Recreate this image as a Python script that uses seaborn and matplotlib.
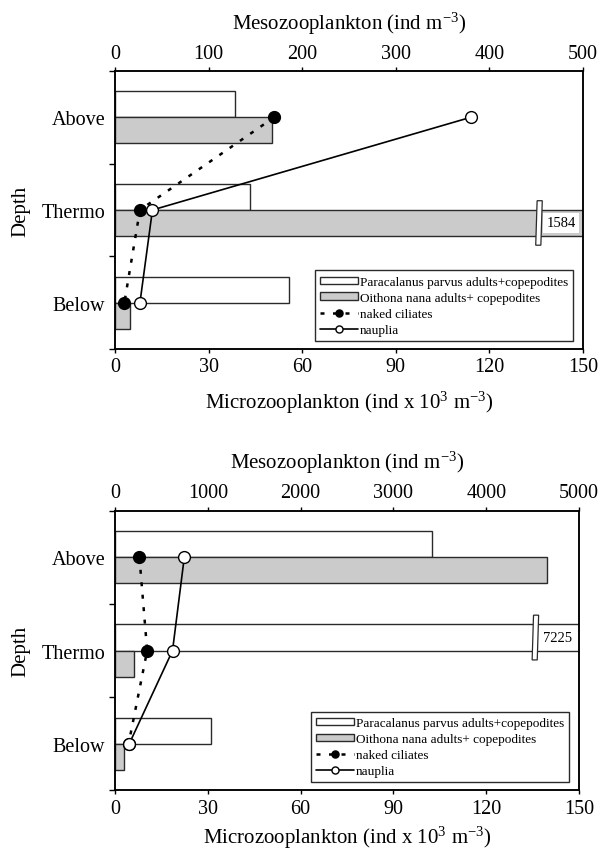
import numpy as np
import pandas as pd
import matplotlib
matplotlib.use("Agg")
import matplotlib.pyplot as plt
import matplotlib.transforms as mtransforms
from matplotlib.patches import Polygon
import seaborn as sns

# ---------------- data ----------------
depths = ["Above", "Thermo", "Below"]
species = ["Paracalanus parvus adults+copepodites", "Oithona nana adults+ copepodites"]
line_labels = ["naked ciliates", "nauplia"]
micro_ticks = [0, 30, 60, 90, 120, 150]

# upper panel
paracalanus_1 = [128, 144, 186]
oithona_1 = [168, 1584, 16]
ciliates_1 = [51, 8, 3]
nauplia_1 = [114, 12, 8]
meso_ticks_1 = [0, 100, 200, 300, 400, 500]

# lower panel
paracalanus_2 = [3420, 7225, 1030]
oithona_2 = [4660, 205, 100]
ciliates_2 = [7.9, 10.4, 4.4]
nauplia_2 = [22.4, 18.6, 4.6]
meso_ticks_2 = [0, 1000, 2000, 3000, 4000, 5000]

# ---------------- style ----------------
sns.set_theme(style="ticks")
plt.rcParams["font.family"] = ["Liberation Serif", "DejaVu Serif"]
plt.rcParams["mathtext.fontset"] = "custom"
plt.rcParams["mathtext.rm"] = "Liberation Serif"
plt.rcParams["mathtext.it"] = "Liberation Serif:italic"
plt.rcParams["axes.edgecolor"] = "black"
plt.rcParams["axes.linewidth"] = 1.1
plt.rcParams["xtick.color"] = "black"
plt.rcParams["ytick.color"] = "black"
plt.rcParams["text.color"] = "black"
plt.rcParams["axes.labelcolor"] = "black"

EDGE = "#2a2a2a"
GRAY = "#cbcbcb"
TICK_FS = 14.5
LABEL_FS = 15

fig = plt.figure(figsize=(6.03, 8.53), dpi=100)


def draw_panel(rect, paracalanus, oithona, ciliates, nauplia, meso_ticks, bottom_pad):
    ax = fig.add_axes(rect)
    bars = pd.DataFrame({
        "depth": depths * 2,
        "species": np.repeat(species, len(depths)),
        "value": list(paracalanus) + list(oithona),
    })
    sns.barplot(data=bars, x="value", y="depth", hue="species", order=depths,
                hue_order=species, orient="h", palette=["white", GRAY],
                saturation=1, edgecolor=EDGE, linewidth=1.0, width=0.56,
                errorbar=None, legend=False, ax=ax)
    meso_max = meso_ticks[-1]
    ax.set_xlim(0, meso_max)

    # axis breaks for bars exceeding the scale
    blend = mtransforms.blended_transform_factory(ax.transAxes, ax.transData)
    for cont in ax.containers:
        for bar in cont.patches:
            if bar.get_width() > meso_max:
                y0, h = bar.get_y(), bar.get_height()
                xb, w, tilt, ext = 0.899, 0.011, 0.003, 0.1
                pts = [(xb + tilt, y0 - ext), (xb + tilt + w, y0 - ext),
                       (xb + w, y0 + h + ext), (xb, y0 + h + ext)]
                ax.add_patch(Polygon(pts, closed=True, transform=blend,
                                     facecolor="white", edgecolor=EDGE,
                                     lw=0.9, zorder=5, clip_on=False))
                ax.text(0.953, y0 + h / 2, f"{bar.get_width():.0f}",
                        transform=blend, ha="center", va="center",
                        fontsize=10.5, zorder=6,
                        bbox=dict(facecolor="white", edgecolor="none", pad=2.5))

    ax2 = ax.twiny()
    ax.xaxis.tick_top()
    ax.xaxis.set_label_position("top")
    ax2.xaxis.tick_bottom()
    ax2.xaxis.set_label_position("bottom")

    pos = np.arange(len(depths))
    lines = pd.DataFrame({
        "pos": np.tile(pos, 2),
        "value": list(ciliates) + list(nauplia),
        "series": np.repeat(line_labels, len(depths)),
    })
    sns.lineplot(data=lines[lines.series == line_labels[0]], x="value", y="pos",
                 orient="y", sort=False, estimator=None, color="black",
                 lw=1.8, linestyle=(0, (1.6, 3.4)), marker="o", markersize=8.5,
                 markerfacecolor="black", markeredgecolor="black",
                 markeredgewidth=1.0, ax=ax2)
    sns.lineplot(data=lines[lines.series == line_labels[1]], x="value", y="pos",
                 orient="y", sort=False, estimator=None, color="black",
                 lw=1.2, linestyle="-", marker="o", markersize=8.5,
                 markerfacecolor="white", markeredgecolor="black",
                 markeredgewidth=1.0, ax=ax2)
    ax2.set_xlim(micro_ticks[0], micro_ticks[-1])
    ax2.set_xticks(micro_ticks)
    ax.set_xticks(meso_ticks)

    # categorical depth axis
    ax.set_ylim(len(depths) - 0.5, -0.5)
    ax.set_yticks(np.arange(len(depths) + 1) - 0.5, labels=[""] * (len(depths) + 1))
    ax.set_yticks(pos, labels=depths, minor=True)
    ax.tick_params(axis="y", which="minor", length=0, pad=7, labelsize=TICK_FS)
    ax.tick_params(axis="y", which="major", length=4.5, width=1.0, direction="out")
    for a in (ax, ax2):
        a.tick_params(axis="x", length=3, width=1.0, direction="out",
                      pad=3, labelsize=TICK_FS)
        for s in a.spines.values():
            s.set_linewidth(1.1)
            s.set_visible(True)

    ax.set_xlabel("Mesozooplankton (ind m$\\mathregular{^{-3}}$)",
                  fontsize=LABEL_FS, labelpad=11)
    ax2.set_xlabel("Microzooplankton (ind x 10$\\mathregular{^{3}}$ m$\\mathregular{^{-3}}$)",
                   fontsize=LABEL_FS, labelpad=bottom_pad)
    ax.set_ylabel("Depth", fontsize=LABEL_FS, labelpad=8)
    ax2.set_ylabel("")

    handles = [ax.containers[0], ax.containers[1], ax2.lines[0], ax2.lines[1]]
    labels = species + line_labels
    leg = ax2.legend(handles, labels, loc="lower right",
                     bbox_to_anchor=(0.979, 0.029), fontsize=9.5, frameon=True,
                     fancybox=False, edgecolor=EDGE, framealpha=1,
                     borderpad=0.4, labelspacing=0.3, handlelength=2.85,
                     handleheight=0.45, handletextpad=0.15, markerscale=0.6,
                     borderaxespad=0)
    leg.get_frame().set_linewidth(1.0)
    return ax, ax2


draw_panel([0.1907, 0.5897, 0.7761, 0.3259], paracalanus_1, oithona_1,
           ciliates_1, nauplia_1, meso_ticks_1, 9)
draw_panel([0.1907, 0.0721, 0.7695, 0.3280], paracalanus_2, oithona_2,
           ciliates_2, nauplia_2, meso_ticks_2, 4)

fig.savefig("out.png", dpi=100)
